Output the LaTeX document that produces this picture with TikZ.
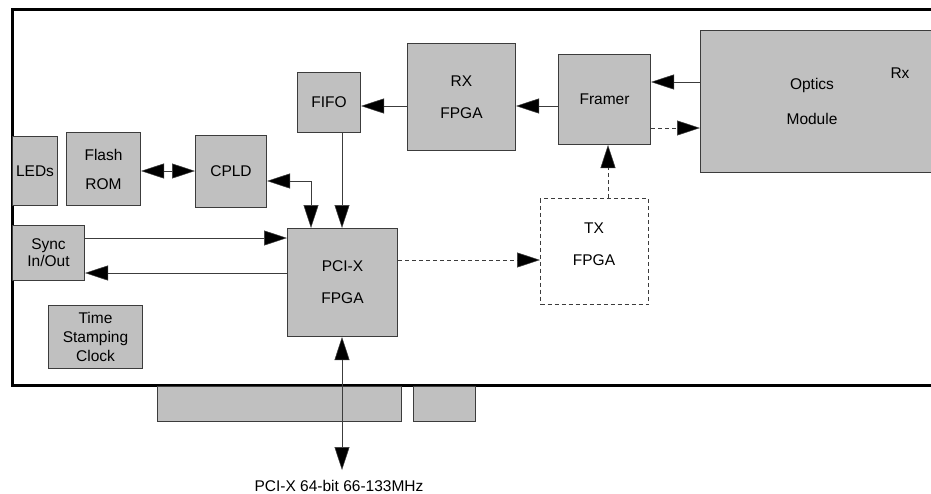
\documentclass[tikz,border=0pt]{standalone}
\usepackage{fontspec}
\setmainfont{Liberation Sans}
\usetikzlibrary{arrows.meta,calc}
\definecolor{boxgray}{RGB}{192,192,192}
\definecolor{edgegray}{RGB}{60,60,60}
\newcommand{\fs}{\fontsize{15.5}{18}\selectfont}
\begin{document}
\begin{tikzpicture}[x=1pt,y=-1pt,
  box/.style={draw=edgegray,fill=boxgray,line width=1pt,inner sep=0pt,align=center,font=\fs,anchor=north west},
  tbox/.style={draw=edgegray,line width=1pt,dash pattern=on 4pt off 3pt,inner sep=0pt,align=center,font=\fs,anchor=north west},
  lbl/.style={inner sep=0pt,font=\fs,align=center},
  tip/.tip={Triangle[length=23pt,width=15pt,fill=black,line width=0.5pt]},
  arr/.style={draw=edgegray,line width=0.9pt,-tip},
  darr/.style={draw=edgegray,line width=0.9pt,tip-tip},
  dsh/.style={dash pattern=on 4pt off 3pt}]
\useasboundingbox (0,0) rectangle (931,493);
% board outline
\draw[line width=3pt] (945,9) -- (12,9) -- (12,385) -- (945,385);
% connector fingers
\node[box,minimum width=244pt,minimum height=35pt] (fing1) at (157,386) {};
\node[box,minimum width=62pt,minimum height=35pt] (fing2) at (413,386) {};
% boxes
\node[box,minimum width=45pt,minimum height=69pt] (leds) at (12,136) {LEDs};
\node[box,minimum width=74pt,minimum height=73pt] (flash) at (66,132) {Flash\\[11pt]ROM};
\node[box,minimum width=71pt,minimum height=72pt] (cpld) at (195,135) {CPLD};
\node[box,minimum width=63pt,minimum height=60pt] (fifo) at (297,72) {FIFO};
\node[box,minimum width=108pt,minimum height=107pt] (rx) at (407,43) {RX\\[14pt]FPGA};
\node[box,minimum width=92pt,minimum height=90pt] (framer) at (558,54) {Framer};
\node[box,minimum width=250pt,minimum height=142pt] (optics) at (700,30) {};
\node[lbl] (optxt) at (812,101) {Optics\\[17pt]Module};
\node[lbl] (rxlbl) at (900,73) {Rx};
\node[tbox,minimum width=108pt,minimum height=106pt] (tx) at (540,198) {};
\node[lbl] (txtxt) at (594,244) {TX\\[14pt]FPGA};
\node[box,minimum width=110pt,minimum height=108pt] (pci) at (287,228) {PCI-X\\[14pt]FPGA};
\node[box,minimum width=72pt,minimum height=55pt,font=\fontsize{15.5}{17}\selectfont] (sync) at (12,225) {Sync\\In/Out};
\node[box,minimum width=94pt,minimum height=63pt,font=\fontsize{15.5}{19}\selectfont] (time) at (48,305) {Time\\Stamping\\Clock};
\coordinate (bus) at (342,470);
\node[lbl] (buslbl) at (339,486) {PCI-X 64-bit 66-133MHz};
% connectors
\draw[darr] (flash.east |- 0,171) -- (cpld.west |- 0,171);
\draw[darr] (cpld.east |- 0,181) -| (pci.north -| 311,0);
\draw[arr] (fifo.south -| 342,0) -- (pci.north -| 342,0);
\draw[arr] (rx.west |- 0,106) -- (fifo.east |- 0,106);
\draw[arr] (framer.west |- 0,106) -- (rx.east |- 0,106);
\draw[arr] (optics.west |- 0,82) -- (framer.east |- 0,82);
\draw[arr,dsh] (framer.east |- 0,128) -- (optics.west |- 0,128);
\draw[arr,dsh] (tx.north -| 608,0) -- (framer.south -| 608,0);
\draw[arr,dsh] (pci.east |- 0,260) -- (tx.west |- 0,260);
\draw[arr] (sync.east |- 0,238) -- (pci.west |- 0,238);
\draw[arr] (pci.west |- 0,273) -- (sync.east |- 0,273);
\draw[darr] (pci.south -| 342,0) -- (bus);
\end{tikzpicture}
\end{document}
